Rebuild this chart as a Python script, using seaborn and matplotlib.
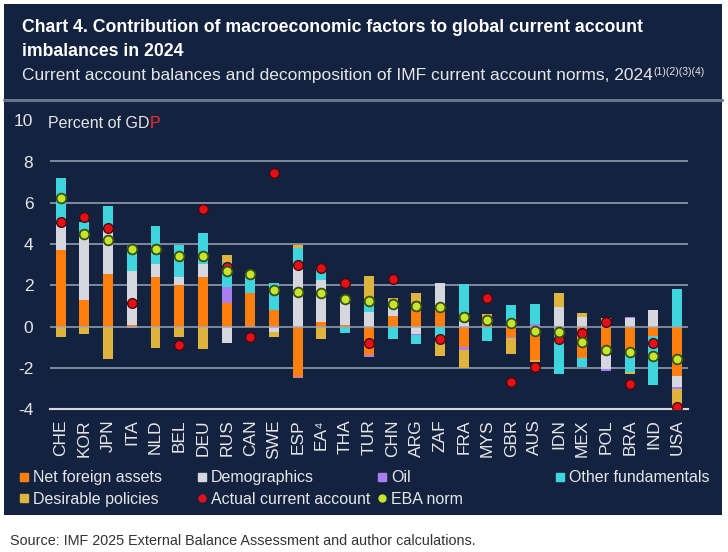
import seaborn as sns
import numpy as np
import matplotlib.pyplot as plt
from matplotlib.lines import Line2D
from matplotlib.patches import Rectangle

countries = ["CHE", "KOR", "JPN", "ITA", "NLD", "BEL", "DEU", "RUS", "CAN", "SWE", "ESP", "EA⁴", "THA",
             "TUR", "CHN", "ARG", "ZAF", "FRA", "MYS", "GBR", "AUS", "IDN", "MEX", "POL", "BRA", "IND", "USA"]

net_foreign_assets = [3.71, 1.29, 2.53, 0.08, 2.42, 2.0, 2.39, 1.13, 1.61, 0.81, -2.42, 0.24, 0.08, -1.37,
                      0.52, 1.05, 0.89, -1.0, 0.5, -0.48, -1.61, 0.05, -1.53, -1.37, -1.37, -0.45, -2.39]
demographics = [1.29, 3.06, 2.27, 2.61, 0.64, 0.42, 0.64, -0.77, 0.0, -0.25, 2.98, 2.02, 1.37, 0.73,
                0.77, -0.35, 1.21, 0.25, 0.0, 0.0, 0.0, 0.92, 0.45, -0.68, 0.4, 0.81, -0.55]
oil = [0.0, 0.0, 0.0, -0.08, 0.0, 0.0, 0.0, 0.81, 0.0, 0.0, -0.08, 0.0, 0.0, -0.08,
       0.0, -0.07, 0.0, -0.13, 0.0, -0.05, 0.15, 0.0, 0.0, -0.08, 0.08, 0.0, -0.09]
other_fundamentals = [2.21, 0.70, 1.05, 1.21, 1.84, 1.53, 1.52, 1.21, 0.9, 1.32, 0.81, 0.59, -0.29, 0.4,
                      -0.6, -0.43, -0.65, 1.8, -0.69, 1.05, 0.93, -2.3, -0.41, 0.0, -0.81, -2.37, 1.82]
desirable_policies = [-0.48, -0.35, -1.56, 0.0, -1.05, -0.48, -1.1, 0.32, 0.0, -0.23, 0.19, -0.6, 0.0, 1.34,
                      0.11, 0.56, -0.75, -0.85, 0.11, -0.77, -0.12, 0.64, 0.23, 0.4, -0.11, 0.0, -0.92]
actual_ca = [5.08, 5.29, 4.8, 1.13, 3.74, -0.9, 5.69, 2.9, -0.48, 7.42, 2.98, 2.82, 2.1, -0.77,
             2.29, 1.02, -0.6, 0.45, 1.4, -2.66, -1.94, -0.6, -0.29, 0.21, -2.79, -0.81, -3.87]
eba_norm = [6.24, 4.48, 4.19, 3.74, 3.74, 3.44, 3.4, 2.69, 2.56, 1.79, 1.68, 1.61, 1.34, 1.26,
            1.11, 1.02, 0.97, 0.45, 0.32, 0.16, -0.21, -0.24, -0.73, -1.13, -1.24, -1.4, -1.58]

names = ["Net foreign assets", "Demographics", "Oil", "Other fundamentals", "Desirable policies"]
colors = ["#ff7f0e", "#d6d6de", "#a87ff0", "#3fd5df", "#dfb43e"]
navy = "#13233f"
txt = "#e6e6ea"

sns.set_style("white")
plt.rcParams["font.family"] = ["Liberation Sans", "DejaVu Sans"]
plt.rcParams["axes.unicode_minus"] = False

fig = plt.figure(figsize=(7.28, 5.52), dpi=100)
fig.patch.set_facecolor("white")
fig.patches.append(Rectangle((4 / 728, 1 - 515 / 552), 718 / 728, 511 / 552, transform=fig.transFigure,
                             facecolor=navy, edgecolor="none", zorder=-10))
fig.add_artist(Line2D([4 / 728, 722 / 728], [1 - 100 / 552] * 2, transform=fig.transFigure,
                      color="#66758c", lw=2.2))

ax = fig.add_axes([50 / 728, 1 - 409.3 / 552, 638 / 728, 289.1 / 552])
ax.set_facecolor("none")

comps = np.array([net_foreign_assets, demographics, oil, other_fundamentals, desirable_policies])
pos = np.cumsum(np.clip(comps, 0, None), axis=0)
neg = np.cumsum(np.clip(comps, None, 0), axis=0)

# outer layers first, inner ones painted over them
for k in range(4, -1, -1):
    sns.barplot(x=countries, y=pos[k], color=colors[k], width=0.42, saturation=1, linewidth=0, ax=ax, zorder=2)
    sns.barplot(x=countries, y=neg[k], color=colors[k], width=0.42, saturation=1, linewidth=0, ax=ax, zorder=2)

sns.stripplot(x=countries, y=actual_ca, jitter=False, color="#e3101a", edgecolor="#4a0a0a",
              linewidth=1, size=7, ax=ax, zorder=5)
sns.stripplot(x=countries, y=eba_norm, jitter=False, color="#c6e62e", edgecolor="#3b4f12",
              linewidth=1.3, size=7, ax=ax, zorder=6)

for g in [-2, 2, 4, 6, 8]:
    ax.axhline(g, color="#7d8aa0", lw=1.4, zorder=1)
ax.axhline(0, color="#9ea8ba", lw=1.4, alpha=0.75, zorder=3)

ax.set_ylim(-4, 10)
ax.set_xlim(-0.45, 26.46)
ax.set_yticks(range(-4, 11, 2))
ax.set_ylabel("")
for s in ["top", "left", "right"]:
    ax.spines[s].set_visible(False)
ax.spines["bottom"].set_color("#d8d8de")
ax.spines["bottom"].set_linewidth(1.5)
ax.tick_params(axis="y", length=0, pad=12, labelsize=12.5, labelcolor=txt)
ax.tick_params(axis="x", length=4, width=1, color="#d8d8de", direction="out", pad=3,
               labelsize=12.5, labelcolor=txt, rotation=90)

fig.text(22 / 728, 1 - 28 / 552, "Chart 4. Contribution of macroeconomic factors to global current account",
         color="white", fontsize=12.7, fontweight="bold", va="center")
fig.text(22 / 728, 1 - 51 / 552, "imbalances in 2024", color="white", fontsize=12.7, fontweight="bold", va="center")
sub = fig.text(22 / 728, 1 - 76 / 552,
               "Current account balances and decomposition of IMF current account norms, 2024",
               color=txt, fontsize=12.5, va="center")
fig.text(10 / 728, 1 - 541 / 552, "Source: IMF 2025 External Balance Assessment and author calculations.",
         color="#333333", fontsize=10.4, va="center")

# "Percent of GDP" with its red P
lab = fig.text(48 / 728, 1 - 123 / 552, "Percent of GD", color=txt, fontsize=11.5, va="center", ha="left")
fig.canvas.draw()
inv = fig.transFigure.inverted()
x1 = inv.transform(lab.get_window_extent().p1)[0]
fig.text(x1, 1 - 123 / 552, "P", color="#ff2a2a", fontsize=11.5, va="center", ha="left")
sx = inv.transform(sub.get_window_extent().p1)[0]
fig.text(sx + 1 / 728, 1 - 72 / 552, "(1)(2)(3)(4)", color=txt, fontsize=7.5, va="center", ha="left")

handles = [Line2D([], [], marker="s", ls="none", color=c, markersize=6) for c in colors]
handles += [Line2D([], [], marker="o", ls="none", color="#e3101a", markersize=5),
            Line2D([], [], marker="o", ls="none", color="#c6e62e", markersize=5)]
labels = names + ["Actual current account", "EBA norm"]
cols = [[0, 4], [1, 5], [2, 6], [3]]
xs = [14, 192, 372, 550]
for xi, idx in zip(xs, cols):
    leg = fig.legend([handles[i] for i in idx], [labels[i] for i in idx], loc="upper left",
                     bbox_to_anchor=(xi / 728, 1 - 464 / 552), frameon=False, fontsize=11.5,
                     handlelength=0.5, handletextpad=0.3, labelspacing=0.4, borderaxespad=0)
    for t in leg.get_texts():
        t.set_color(txt)

fig.savefig("out.png", dpi=100, facecolor="white")
